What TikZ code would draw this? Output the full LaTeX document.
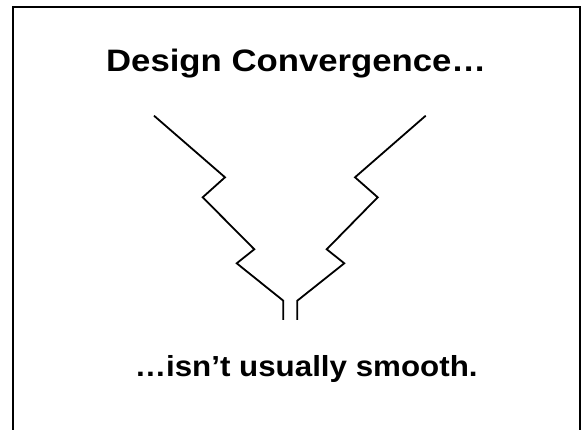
\documentclass[tikz,border=0pt]{standalone}
\usepackage{fontspec}
\setmainfont{Liberation Sans}
\begin{document}
\begin{tikzpicture}[x=1pt,y=-1pt,
  zig/.style={line width=1.8pt,line join=miter,black},
  frameline/.style={line width=2pt,black},
  titletext/.style={font=\bfseries\fontsize{31}{36}\selectfont,anchor=base,inner sep=0pt},
  subtext/.style={font=\bfseries\fontsize{29}{34}\selectfont,anchor=base,inner sep=0pt}]
\useasboundingbox (0,0) rectangle (581,430);
\begin{scope}
\clip (0,0) rectangle (581,430);
\draw[frameline] (13,7) rectangle (580,445);
\end{scope}
\node[titletext] (title) at (296.2,71.7) {\scalebox{1.12}[1]{Design Convergence…}};
\node[subtext] (sub) at (306.2,376) {\scalebox{1.08}[1]{…isn’t usually smooth.}};
\draw[zig] (154,115.7) -- (225,177.3) -- (202.7,197.3) -- (254.3,249.3) -- (236.7,263.3) -- (283.3,300.7) -- (283.3,320);
\draw[zig] (425.7,115.7) -- (355,177.3) -- (377.7,197.3) -- (326.7,249.3) -- (344.3,263.3) -- (297.3,300.7) -- (297.3,320);
\end{tikzpicture}
\end{document}
